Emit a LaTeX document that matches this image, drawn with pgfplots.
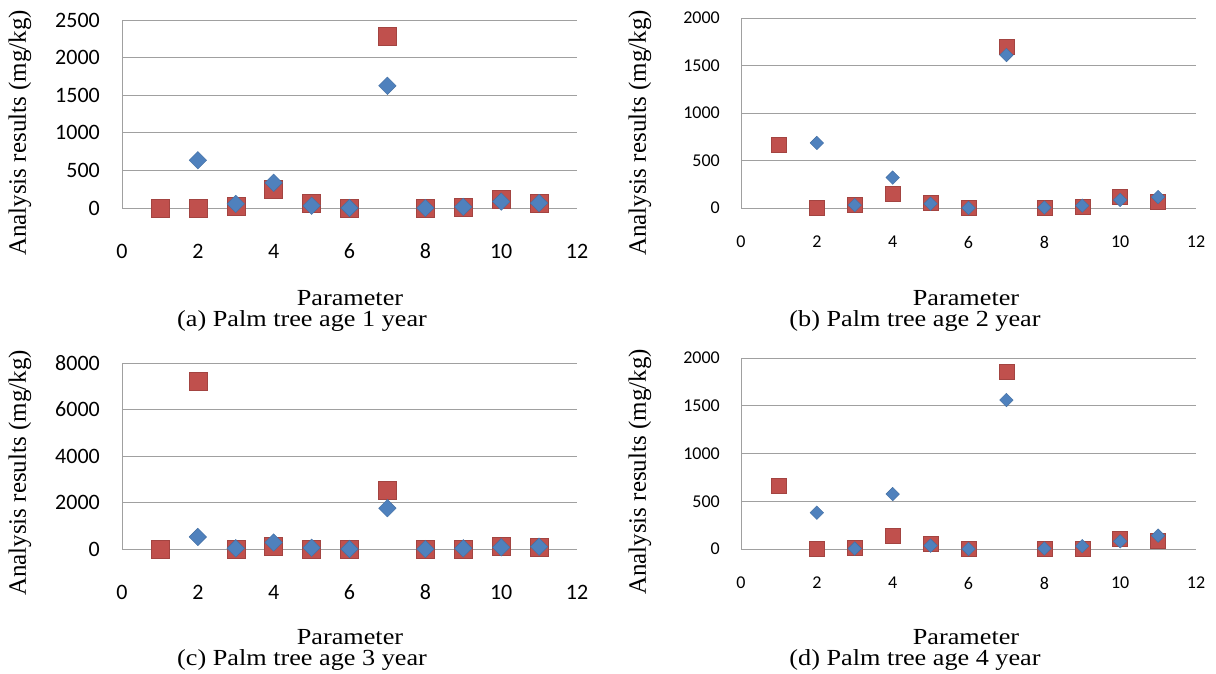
\documentclass[border=0pt]{standalone}
\usepackage{fontspec}
\setmainfont{Liberation Serif}
\newfontfamily\calibri{Carlito}
\usepackage{pgfplots}
\pgfplotsset{compat=1.18}
\definecolor{xred}{HTML}{C0504D}
\definecolor{xblue}{HTML}{4F81BD}
\definecolor{gridc}{HTML}{A0A0A0}

\pgfplotsset{
 panel/.style={
  scale only axis, anchor=south west,
  xmin=0, xmax=12, ymin=0,
  xtick={0,2,...,12},
  axis lines*=left,
  axis line style={gridc, line width=0.9pt},
  ymajorgrids, grid style={gridc, line width=0.9pt},
  major tick length=0pt,
  clip=false,
  /pgf/number format/assume math mode=true,
  /pgf/number format/1000 sep={},
  scaled y ticks=false,
  yticklabel style={anchor=east, inner sep=0pt},
  xticklabel style={anchor=center, inner sep=0pt},
 },
 big/.style={
  tick label style={font=\calibri\fontsize{22}{22}\selectfont},
  yticklabel style={xshift=-22pt},
  xticklabel style={yshift=-43pt},
 },
 small/.style={
  tick label style={font=\calibri\fontsize{18}{18}\selectfont},
  yticklabel style={xshift=-21pt},
  xticklabel style={yshift=-34pt},
 },
 redsq/.style={only marks, mark=square*, mark size=#1, mark options={fill=xred, draw=xred!85!black, line width=0.4pt}},
 bluedi/.style={only marks, mark=square*, mark size=#1, mark options={rotate=45, fill=xblue, draw=xblue!85!black, line width=0.4pt}},
}

\begin{document}
\begin{tikzpicture}[x=1pt,y=1pt]
\useasboundingbox (0,0) rectangle (1216,674);

% (a)
\begin{axis}[panel, big, at={(122pt,466pt)}, width=455pt, height=188pt,
  ymax=2500, ytick={0,500,...,2500}]
\addplot[redsq=9pt] coordinates {(1,0)(2,0)(3,25)(4,245)(5,65)(6,0)(7,2285)(8,0)(9,15)(10,120)(11,65)};
\addplot[bluedi=6.2pt] coordinates {(2,635)(3,55)(4,335)(5,30)(6,0)(7,1625)(8,0)(9,15)(10,85)(11,65)};
\end{axis}

% (b)
\begin{axis}[panel, small, at={(741pt,466pt)}, width=455pt, height=190pt,
  ymax=2000, ytick={0,500,...,2000}]
\addplot[redsq=7.5pt] coordinates {(1,665)(2,0)(3,30)(4,155)(5,60)(6,0)(7,1700)(8,0)(9,10)(10,115)(11,65)};
\addplot[bluedi=4.8pt] coordinates {(2,685)(3,30)(4,320)(5,45)(6,0)(7,1610)(8,5)(9,25)(10,85)(11,115)};
\end{axis}

% (c)
\begin{axis}[panel, big, at={(122pt,125pt)}, width=455pt, height=186pt,
  ymax=8000, ytick={0,2000,...,8000}]
\addplot[redsq=9pt] coordinates {(1,0)(2,7200)(3,0)(4,140)(5,0)(6,0)(7,2520)(8,0)(9,0)(10,140)(11,70)};
\addplot[bluedi=6.2pt] coordinates {(2,520)(3,30)(4,280)(5,55)(6,0)(7,1755)(8,0)(9,30)(10,70)(11,100)};
\end{axis}

% (d)
\begin{axis}[panel, small, at={(741pt,125pt)}, width=455pt, height=191pt,
  ymax=2000, ytick={0,500,...,2000}]
\addplot[redsq=7.5pt] coordinates {(1,660)(2,0)(3,10)(4,140)(5,60)(6,0)(7,1860)(8,0)(9,5)(10,110)(11,90)};
\addplot[bluedi=4.8pt] coordinates {(2,380)(3,5)(4,575)(5,35)(6,0)(7,1560)(8,5)(9,30)(10,80)(11,140)};
\end{axis}

% labels
\tikzset{ylab/.style={rotate=90, inner sep=0pt, font=\fontsize{25}{25}\selectfont},
         capt/.style={anchor=base, inner sep=0pt, xscale=1.14, font=\fontsize{23}{23}\selectfont}}
\node[ylab] at (20,541) {Analysis results (mg/kg)};
\node[ylab] at (640,541) {Analysis results (mg/kg)};
\node[ylab] at (20,201) {Analysis results (mg/kg)};
\node[ylab] at (640,202) {Analysis results (mg/kg)};

\node[capt] at (350,368) {Parameter};
\node[capt] at (302,347) {(a) Palm tree age 1 year};
\node[capt] at (966,368) {Parameter};
\node[capt] at (915,347) {(b) Palm tree age 2 year};
\node[capt] at (350,29) {Parameter};
\node[capt] at (302,8) {(c) Palm tree age 3 year};
\node[capt] at (966,29) {Parameter};
\node[capt] at (915,8) {(d) Palm tree age 4 year};
\end{tikzpicture}
\end{document}
